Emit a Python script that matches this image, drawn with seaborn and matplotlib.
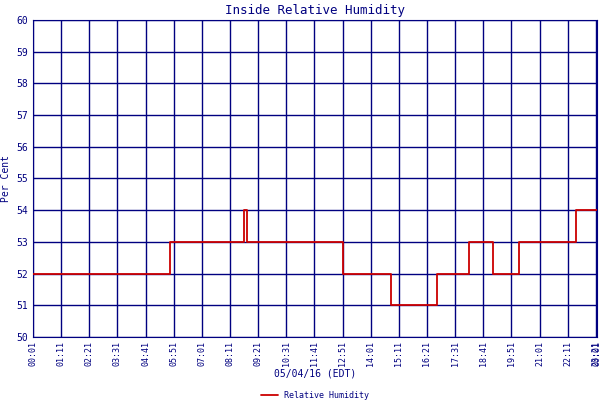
import matplotlib
matplotlib.use("Agg")
import matplotlib.pyplot as plt
import seaborn as sns
import pandas as pd

# minutes after 00:01 and humidity values (step changes)
minutes = [0, 342, 526, 533, 772, 891, 1005, 1084, 1144, 1208, 1350, 1403]
humidity = [52, 53, 54, 53, 52, 51, 52, 53, 52, 53, 54, 54]
tick_labels = ["00:01", "01:11", "02:21", "03:31", "04:41", "05:51", "07:01", "08:11",
               "09:21", "10:31", "11:41", "12:51", "14:01", "15:11", "16:21", "17:31",
               "18:41", "19:51", "21:01", "22:11", "23:21"]

sns.set_style("white")
plt.rcParams['font.family'] = ['DejaVu Sans Mono']
navy = "#000080"
fig = plt.figure(figsize=(6, 4), dpi=100)
ax = fig.add_axes([0.055, 0.1575, 0.94, 0.7925])
df = pd.DataFrame({"t": minutes, "h": humidity})
sns.lineplot(data=df, x="t", y="h", drawstyle="steps-post", color="#cc0000",
             lw=1.3, ax=ax, label="Relative Humidity", zorder=3)
ax.set_xlim(0, 1403)
ax.set_ylim(50, 60)
ticks = [70 * i for i in range(len(tick_labels))] + [1403]
ax.set_xticks(ticks)
ax.set_xticklabels(tick_labels + ["00:01"], rotation=90, fontsize=6, color=navy)
ax.set_yticks(range(50, 61))
ax.tick_params(axis='y', labelsize=7, labelcolor=navy, length=0)
ax.tick_params(axis='x', length=0, pad=3)
ax.grid(True, color=navy, lw=1, zorder=1)
ax.set_axisbelow(True)
for s in ax.spines.values():
    s.set_color(navy)
ax.set_title("Inside Relative Humidity", color=navy, fontsize=9, pad=4)
ax.set_ylabel("Per Cent", color=navy, fontsize=7)
ax.set_xlabel("05/04/16 (EDT)", color=navy, fontsize=7, labelpad=2)
leg = ax.legend(loc="lower center", bbox_to_anchor=(0.5, -0.215), frameon=False,
                fontsize=6, handlelength=2, borderpad=0.1)
for t in leg.get_texts():
    t.set_color(navy)
fig.savefig("out.png", dpi=100)
